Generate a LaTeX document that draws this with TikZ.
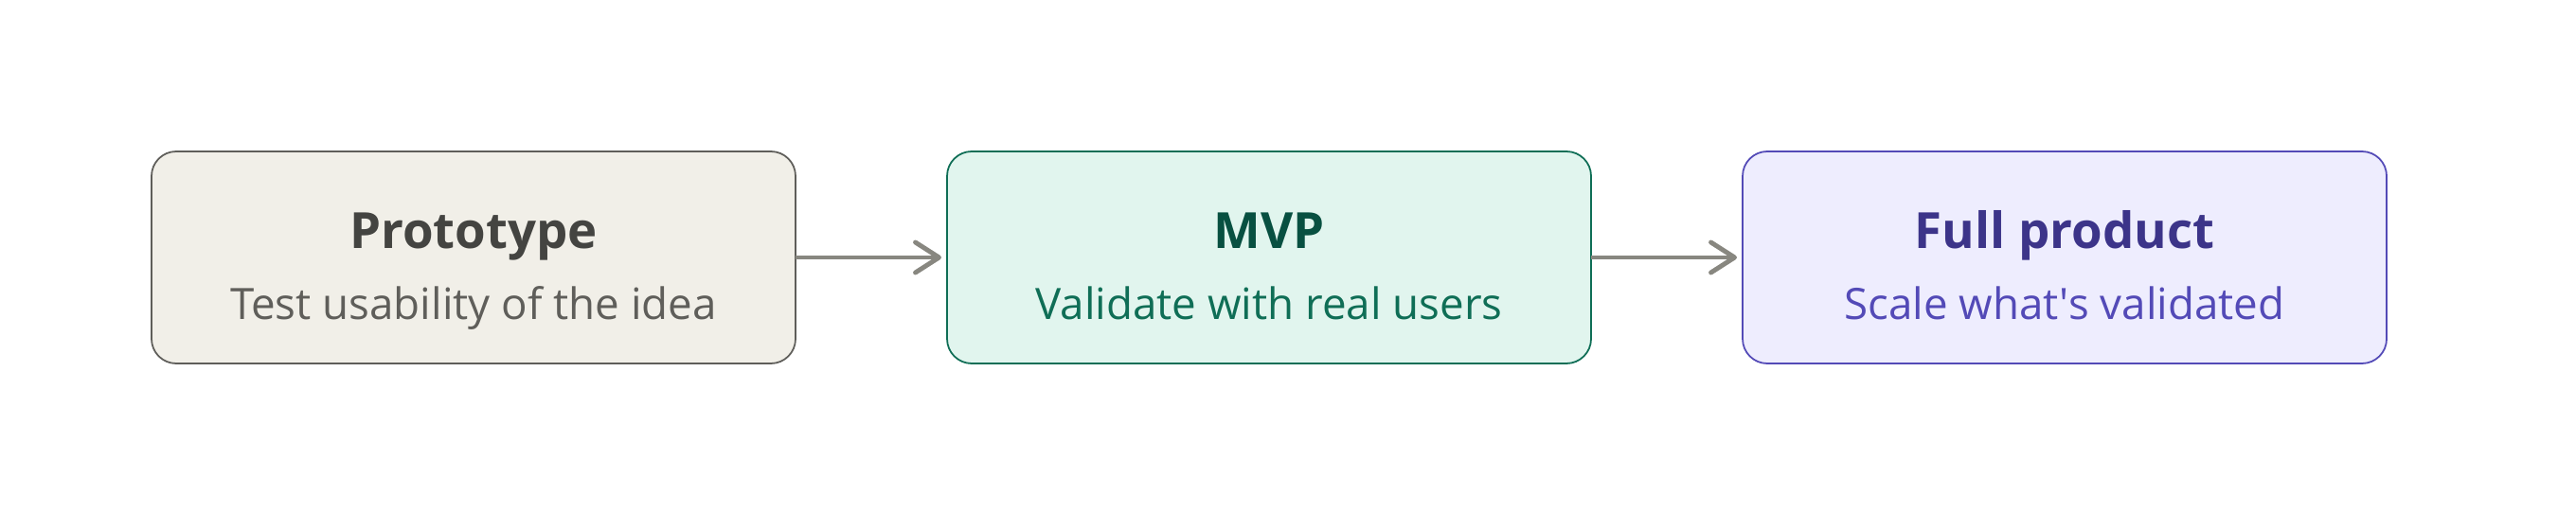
\documentclass[tikz,border=0pt]{standalone}
\usepackage{fontspec}
\setmainfont{Open Sans}
\usetikzlibrary{arrows.meta, positioning}

\definecolor{protoFill}{HTML}{F1EFE8}
\definecolor{protoLine}{HTML}{5F5E5A}
\definecolor{protoHead}{HTML}{444441}
\definecolor{mvpFill}{HTML}{E1F5EE}
\definecolor{mvpLine}{HTML}{0F6E56}
\definecolor{mvpHead}{HTML}{085041}
\definecolor{fullFill}{HTML}{EEEDFE}
\definecolor{fullLine}{HTML}{534AB7}
\definecolor{fullHead}{HTML}{3C3489}
\definecolor{arrGray}{HTML}{888780}

\begin{document}
\begin{tikzpicture}[
  stage/.style={draw, line width=0.5pt, rounded corners=0.26cm,
    minimum width=6.8cm, minimum height=2.24cm, inner sep=0pt, outer sep=0pt},
  ttl/.style={anchor=base, font=\fontsize{15}{18}\selectfont\bfseries},
  sub/.style={anchor=base, font=\fontsize{13}{16}\selectfont},
  arr/.style={draw=arrGray, line width=1.4pt, shorten >=0.06cm,
    -{Straight Barb[length=2.5mm, width=3.2mm, round]}}
]
\useasboundingbox (0,0) rectangle (27.2,5.6);
%\draw[step=1cm,gray,very thin] (0,0) grid (27.2,5.6); %background grid
\node[stage, fill=protoFill, draw=protoLine] (proto) at (5,2.88) {};
\node[stage, fill=mvpFill, draw=mvpLine, right=1.6cm of proto] (mvp) {};
\node[stage, fill=fullFill, draw=fullLine, right=1.6cm of mvp] (full) {};

\node[ttl, text=protoHead] (protoT) at ([yshift=0.09cm]proto.center) {Prototype};
\node[sub, text=protoLine] (protoS) at ([yshift=-0.66cm]proto.center) {Test usability of the idea};
\node[ttl, text=mvpHead] (mvpT) at ([yshift=0.09cm]mvp.center) {MVP};
\node[sub, text=mvpLine] (mvpS) at ([yshift=-0.66cm]mvp.center) {Validate with real users};
\node[ttl, text=fullHead] (fullT) at ([yshift=0.09cm]full.center) {Full product};
\node[sub, text=fullLine] (fullS) at ([yshift=-0.66cm]full.center) {Scale what\textquotesingle s validated};

\draw[arr] (proto.east) -- (mvp.west);
\draw[arr] (mvp.east) -- (full.west);
\end{tikzpicture}
\end{document}
